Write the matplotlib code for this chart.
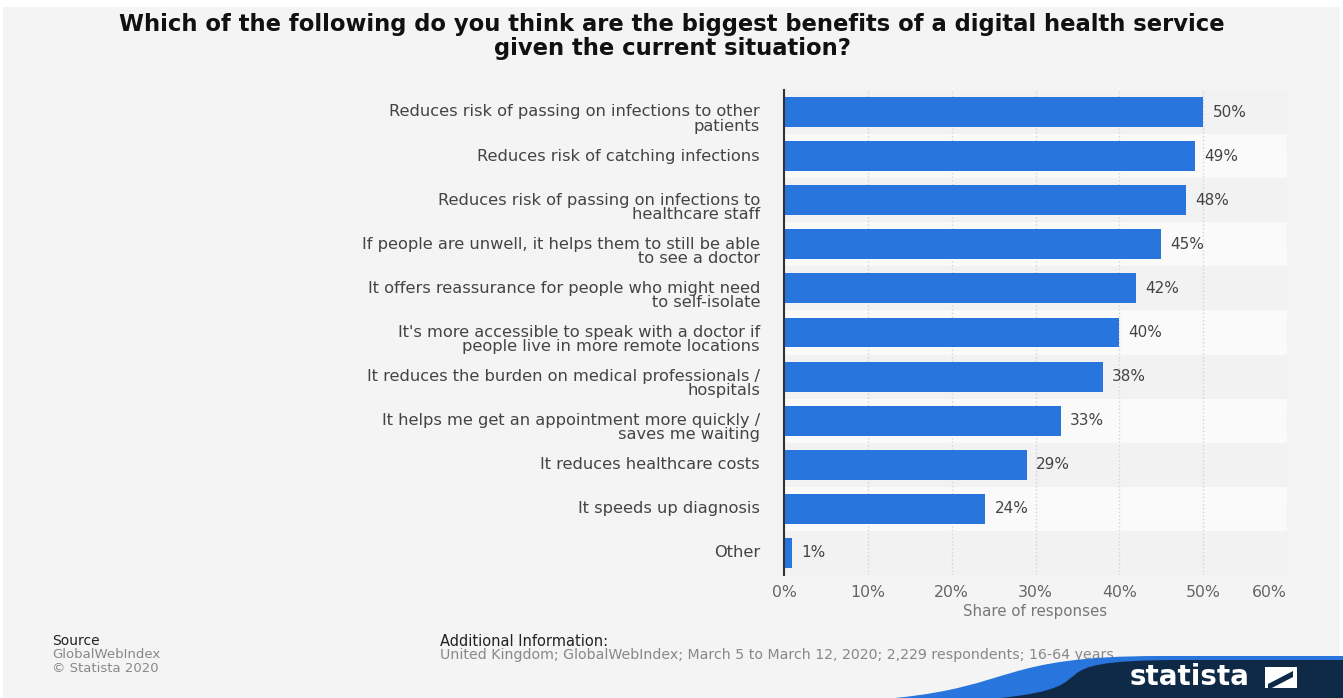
import numpy as np
import matplotlib.pyplot as plt
from matplotlib.patches import Rectangle, PathPatch, Polygon
from matplotlib.path import Path

plt.rcParams['font.family'] = ['DejaVu Sans']

categories = [
    "Reduces risk of passing on infections to other\npatients",
    "Reduces risk of catching infections",
    "Reduces risk of passing on infections to\nhealthcare staff",
    "If people are unwell, it helps them to still be able\nto see a doctor",
    "It offers reassurance for people who might need\nto self-isolate",
    "It's more accessible to speak with a doctor if\npeople live in more remote locations",
    "It reduces the burden on medical professionals /\nhospitals",
    "It helps me get an appointment more quickly /\nsaves me waiting",
    "It reduces healthcare costs",
    "It speeds up diagnosis",
    "Other",
]
values = [50, 49, 48, 45, 42, 40, 38, 33, 29, 24, 1]
xticks = [0, 10, 20, 30, 40, 50, 60]

W, H = 1343, 698
fig = plt.figure(figsize=(W / 100, H / 100), dpi=100)
fig.patch.set_facecolor('white')
# grey card behind everything
fig.add_artist(Rectangle((3 / W, 0), 1 - 6 / W, 1 - 7 / H, transform=fig.transFigure,
                         facecolor='#f4f4f4', edgecolor='none', zorder=-10))

ax = fig.add_axes([784 / W, 1 - 575 / H, 503 / W, 485 / H])
ax.set_facecolor('none')
n = len(categories)
y = np.arange(n)

# alternating row bands
for i in range(n):
    ax.axhspan(i - 0.5, i + 0.5, color='#f2f2f2' if i % 2 == 0 else '#fafafa', zorder=0, lw=0)

ax.barh(y, values, height=0.68, color='#2876dd', zorder=3)
for yi, v in zip(y, values):
    ax.text(v + 1.1, yi, f"{v}%", va='center', ha='left', fontsize=11, color='#444444')

# category labels: first line sits level with the bar
for yi, lab in zip(y, categories):
    shift = -7 if '\n' in lab else 0
    ax.annotate(lab, xy=(0, yi), xycoords=('axes fraction', 'data'),
                xytext=(-24, shift), textcoords='offset pixels',
                ha='right', va='center', fontsize=11.7, color='#444444',
                linespacing=0.93, multialignment='right')

ax.set_xlim(0, 60)
ax.set_ylim(n - 0.5, -0.5)
ax.set_xticks(xticks)
ax.set_xticklabels([f"{t}%" for t in xticks], fontsize=11.3, color='#666666')
ax.get_xticklabels()[-1].set_horizontalalignment('right')
ax.set_yticks([])
ax.tick_params(axis='both', length=0)
ax.tick_params(axis='x', pad=7)
ax.grid(axis='x', color='#d4d4d4', linestyle=':', linewidth=1, zorder=1)
for s in ['top', 'right', 'bottom']:
    ax.spines[s].set_visible(False)
ax.spines['left'].set_color('#333333')
ax.spines['left'].set_linewidth(1.5)
ax.spines['left'].set_zorder(5)
ax.set_xlabel("Share of responses", fontsize=10.8, color='#777777', labelpad=3)

fig.text(672 / W, 1 - 24 / H,
         "Which of the following do you think are the biggest benefits of a digital health service",
         ha='center', va='center', fontsize=16.3, fontweight='bold', color='#111111')
fig.text(672 / W, 1 - 49 / H, "given the current situation?",
         ha='center', va='center', fontsize=16.3, fontweight='bold', color='#111111')

# footer
fig.text(52 / W, 1 - 641 / H, "Source", fontsize=10, color='#222222', va='center')
fig.text(52 / W, 1 - 655 / H, "GlobalWebIndex", fontsize=9.5, color='#888888', va='center')
fig.text(52 / W, 1 - 668 / H, "© Statista 2020", fontsize=9.5, color='#888888', va='center')
fig.text(440 / W, 1 - 641 / H, "Additional Information:", fontsize=10.5, color='#222222', va='center')
fig.text(440 / W, 1 - 655 / H,
         "United Kingdom; GlobalWebIndex; March 5 to March 12, 2020; 2,229 respondents; 16-64 years",
         fontsize=10.2, color='#888888', va='center')

# statista logo band
def wave(y_top, x0, x1):
    verts = [(x0 / W, 0), ((x0 + 120) / W, 12 / H), ((x1 - 160) / W, 1 - y_top / H),
             (x1 / W, 1 - y_top / H), (1, 1 - y_top / H), (1, 0), (x0 / W, 0)]
    codes = [Path.MOVETO, Path.CURVE4, Path.CURVE4, Path.CURVE4, Path.LINETO, Path.LINETO, Path.CLOSEPOLY]
    return Path(verts, codes)

fig.add_artist(PathPatch(wave(656, 895, 1160), transform=fig.transFigure,
                         facecolor='#2876dd', edgecolor='none', zorder=20))
fig.add_artist(PathPatch(wave(660, 1000, 1180), transform=fig.transFigure,
                         facecolor='#0e2a47', edgecolor='none', zorder=21))
fig.text(1130 / W, 1 - 677 / H, "statista", fontsize=20, fontweight='bold', color='white',
         va='center', ha='left', zorder=22)
fig.add_artist(Rectangle((1265 / W, 1 - 688 / H), 32 / W, 21 / H, transform=fig.transFigure,
                         facecolor='white', edgecolor='none', zorder=22))
fig.add_artist(Polygon([(1268 / W, 1 - 684 / H), (1293 / W, 1 - 671 / H),
                        (1293 / W, 1 - 677 / H), (1268 / W, 1 - 690 / H)],
                       closed=True, transform=fig.transFigure, facecolor='#0e2a47',
                       edgecolor='none', zorder=23))

fig.savefig('out.png', dpi=100, facecolor=fig.get_facecolor())
